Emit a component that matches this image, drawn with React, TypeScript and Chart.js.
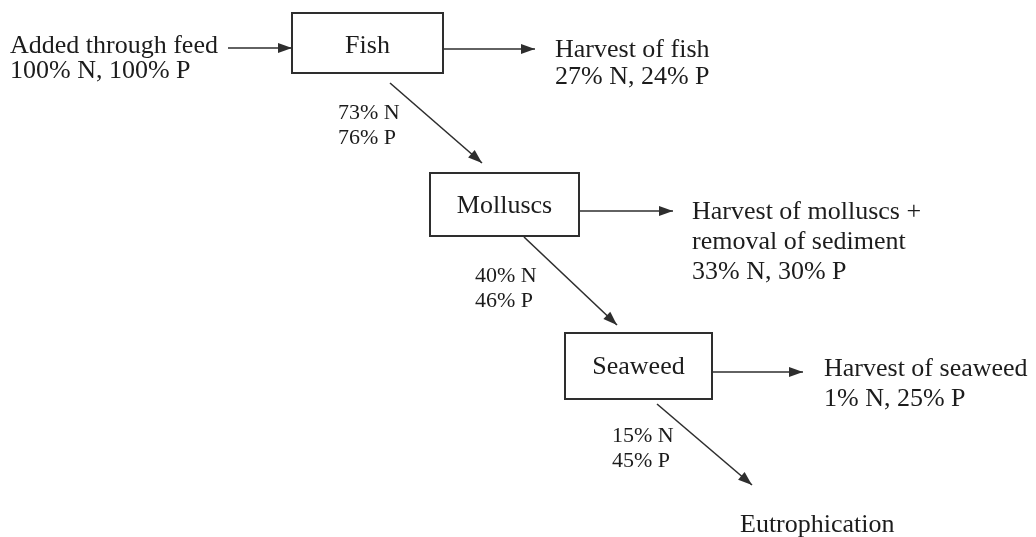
import React, { useEffect, useRef } from "react";
import { Chart, registerables } from "chart.js";

Chart.register(...registerables);

// ---- Data ----
const stages = ["Fish", "Molluscs", "Seaweed"];
const inputLabel = "Added through feed";
const inputN = [100];
const inputP = [100];
const harvestLabels = [
  ["Harvest of fish"],
  ["Harvest of molluscs +", "removal of sediment"],
  ["Harvest of seaweed"],
];
const harvestN = [27, 33, 1];
const harvestP = [24, 30, 25];
const passN = [73, 40, 15];
const passP = [76, 46, 45];
const sinkLabel = "Eutrophication";

// ---- Layout (in scale units; scales span the page 1:1) ----
const W = 1036;
const H = 537;
const LAYOUT = {
  boxes: [
    [292, 13, 443, 73],
    [430, 173, 579, 236],
    [565, 333, 712, 399],
  ],
  boxBaseline: [53, 213, 374],
  inputArrow: [228, 48, 292, 48],
  inputText: { x: 10, y: 53, lh: 25 },
  outArrows: [
    [443, 49, 535, 49],
    [579, 211, 673, 211],
    [712, 372, 803, 372],
  ],
  harvestText: [
    { x: 555, y: 57, lh: 27 },
    { x: 692, y: 219, lh: 30 },
    { x: 824, y: 376, lh: 30 },
  ],
  diagArrows: [
    [390, 83, 482, 163],
    [524, 237, 617, 325],
    [657, 404, 752, 485],
  ],
  passText: [
    { x: 338, y: 119, lh: 25 },
    { x: 475, y: 282, lh: 25 },
    { x: 612, y: 442, lh: 25 },
  ],
  sinkText: { x: 740, y: 532 },
};

const FONT_MAIN = "26px 'Liberation Serif', 'DejaVu Serif', serif";
const FONT_SMALL = "22px 'Liberation Serif', 'DejaVu Serif', serif";
const INK = "#1c1c1c";
const LINE = "#2e2e2e";

const allArrows = [LAYOUT.inputArrow, ...LAYOUT.outArrows, ...LAYOUT.diagArrows];

const diagramPlugin = {
  id: "flowDiagram",
  afterDatasetsDraw(chart: any) {
    const ctx = chart.ctx as CanvasRenderingContext2D;
    const xs = chart.scales.x;
    const ys = chart.scales.y;
    const px = (v: number) => xs.getPixelForValue(v);
    const py = (v: number) => ys.getPixelForValue(v);

    ctx.save();
    // arrowheads
    ctx.fillStyle = LINE;
    allArrows.forEach(([x1, y1, x2, y2]) => {
      const ax = px(x1), ay = py(y1), bx = px(x2), by = py(y2);
      const ang = Math.atan2(by - ay, bx - ax);
      const len = 14, hw = 5;
      const cx = bx - Math.cos(ang) * len;
      const cy = by - Math.sin(ang) * len;
      ctx.beginPath();
      ctx.moveTo(bx, by);
      ctx.lineTo(cx + Math.sin(ang) * hw, cy - Math.cos(ang) * hw);
      ctx.lineTo(cx - Math.sin(ang) * hw, cy + Math.cos(ang) * hw);
      ctx.closePath();
      ctx.fill();
    });

    // boxes
    LAYOUT.boxes.forEach(([x1, y1, x2, y2], i) => {
      const l = px(x1), t = py(y1), r = px(x2), b = py(y2);
      ctx.fillStyle = "#ffffff";
      ctx.fillRect(l, t, r - l, b - t);
      ctx.strokeStyle = LINE;
      ctx.lineWidth = 2;
      ctx.strokeRect(l, t, r - l, b - t);
      ctx.fillStyle = INK;
      ctx.font = FONT_MAIN;
      ctx.textAlign = "center";
      ctx.textBaseline = "alphabetic";
      ctx.fillText(stages[i], (l + r) / 2, py(LAYOUT.boxBaseline[i]));
    });

    ctx.fillStyle = INK;
    ctx.textAlign = "left";
    ctx.textBaseline = "alphabetic";

    // input text
    ctx.font = FONT_MAIN;
    const it = LAYOUT.inputText;
    ctx.fillText(inputLabel, px(it.x), py(it.y));
    ctx.fillText(`${inputN[0]}% N, ${inputP[0]}% P`, px(it.x), py(it.y + it.lh));

    // harvest texts
    harvestLabels.forEach((lines, i) => {
      const t = LAYOUT.harvestText[i];
      const all = [...lines, `${harvestN[i]}% N, ${harvestP[i]}% P`];
      all.forEach((s, k) => ctx.fillText(s, px(t.x), py(t.y + k * t.lh)));
    });

    // sink
    ctx.fillText(sinkLabel, px(LAYOUT.sinkText.x), py(LAYOUT.sinkText.y));

    // pass-through labels
    ctx.font = FONT_SMALL;
    passN.forEach((n, i) => {
      const t = LAYOUT.passText[i];
      ctx.fillText(`${n}% N`, px(t.x), py(t.y));
      ctx.fillText(`${passP[i]}% P`, px(t.x), py(t.y + t.lh));
    });
    ctx.restore();
  },
};

export default function App() {
  const canvasRef = useRef<HTMLCanvasElement | null>(null);

  useEffect(() => {
    if (!canvasRef.current) return;
    const datasets = allArrows.map(([x1, y1, x2, y2]) => ({
      data: [
        { x: x1, y: y1 },
        { x: x2, y: y2 },
      ],
      showLine: true,
      borderColor: LINE,
      borderWidth: 1.6,
      pointRadius: 0,
      fill: false,
    }));
    const chart = new Chart(canvasRef.current, {
      type: "scatter",
      data: { datasets },
      options: {
        responsive: false,
        animation: false,
        devicePixelRatio: 1,
        events: [],
        layout: { padding: 0 },
        plugins: {
          legend: { display: false },
          tooltip: { enabled: false },
        },
        scales: {
          x: { type: "linear", min: 0, max: W, display: false },
          y: { type: "linear", min: 0, max: H, reverse: true, display: false },
        },
      },
      plugins: [diagramPlugin],
    } as any);
    return () => chart.destroy();
  }, []);

  return (
    <div style={{ position: "fixed", left: 0, top: 0, width: W, height: H, background: "#fff" }}>
      <canvas ref={canvasRef} width={W} height={H} style={{ display: "block" }} />
    </div>
  );
}
